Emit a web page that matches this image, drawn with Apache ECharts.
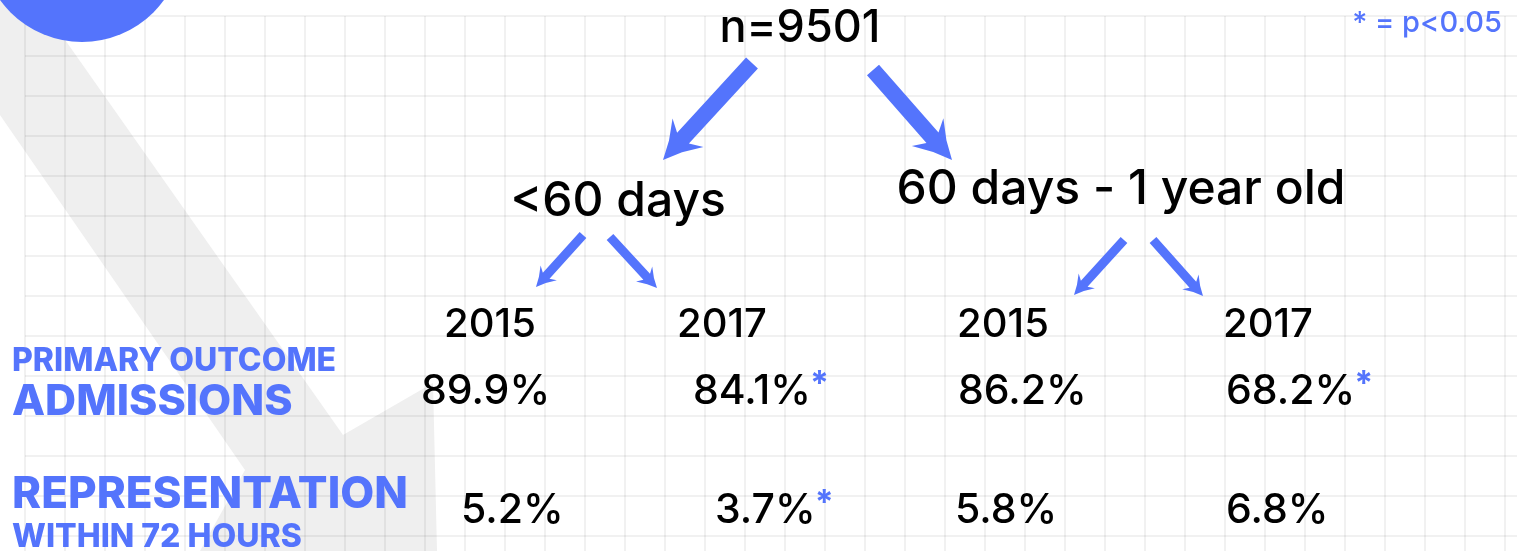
<!DOCTYPE html>
<html>
<head>
<meta charset="utf-8">
<title>Admissions and representation by age group</title>
<script src="https://cdn.jsdelivr.net/npm/echarts@6/dist/echarts.min.js"></script>
<style>
  html, body { margin: 0; padding: 0; background: #fff; }
  #main { width: 1517px; height: 551px; }
</style>
</head>
<body>
<div id="main"></div>
<script>
// data
const totalN = 9501;
const ageGroups = ['<60 days', '60 days - 1 year old'];
const years = ['2015', '2017', '2015', '2017'];
const admissions = [89.9, 84.1, 86.2, 68.2];
const representation = [5.2, 3.7, 5.8, 6.8];
const admissionsSig = [false, true, false, true];
const representationSig = [false, true, false, false];
const rowTitles = [['PRIMARY OUTCOME', 'ADMISSIONS'], ['REPRESENTATION', 'WITHIN 72 HOURS']];
const sigNote = '* = p<0.05';

// layout, in page pixels (axis 0 maps 1 unit = 1 px)
const totalPos = [800, 28];
const groupPos = [[618, 202], [1121, 190]];
const yearX = [490, 722, 1003, 1268];
const yearY = 325;
const admX = [421, 693, 958, 1226];
const repX = [461, 715, 955, 1226];
const rowY = [392, 511];
const bigArrows = [[752, 63, 663, 160], [873, 70, 952, 160]];        // tail x, tail y, tip x, tip y
const smallArrows = [[583, 235, 536, 287], [610, 237, 657, 288], [1124, 240, 1074, 295], [1153, 240, 1203, 296]];
const bandPoints = [[0, 0], [37, 0], [343, 435], [433, 383], [437, 551], [200, 551], [245, 470], [0, 115]];
const dot = [82, -59, 101];

const BLUE = '#5474fc';
const FONT = 'Inter, "Noto Sans", sans-serif';

// collect every text piece
const texts = [];
function addText(x, y, text, size, opts) {
  texts.push(Object.assign({ x: x, y: y, text: text, size: size, align: 'center', color: '#000', weight: 500, star: false }, opts || {}));
}
const pct = v => v.toFixed(1) + '%';
addText(totalPos[0], totalPos[1], 'n=' + totalN, 45);
addText(1502, 23, sigNote, 29, { align: 'right', color: BLUE });
ageGroups.forEach((g, i) => addText(groupPos[i][0], groupPos[i][1], g, 48));
years.forEach((y, i) => addText(yearX[i], yearY, y, 40));
admissions.forEach((v, i) => addText(admX[i], rowY[0], pct(v), 41, { align: 'left', star: admissionsSig[i] }));
representation.forEach((v, i) => addText(repX[i], rowY[1], pct(v), 41, { align: 'left', star: representationSig[i] }));
addText(12, 361, rowTitles[0][0], 32, { align: 'left', color: BLUE, weight: 800 });
addText(12, 402, rowTitles[0][1], 43, { align: 'left', color: BLUE, weight: 800 });
addText(12, 495, rowTitles[1][0], 44, { align: 'left', color: BLUE, weight: 800 });
addText(12, 537, rowTitles[1][1], 32, { align: 'left', color: BLUE, weight: 800 });

const arrows = bigArrows.map(a => a.concat([8, 37, 21])).concat(smallArrows.map(a => a.concat([4.5, 19, 11])));

// text width, to put the significance star right after a number
const measureCtx = document.createElement('canvas').getContext('2d');
function textWidth(str, weight, size) {
  measureCtx.font = weight + ' ' + size + 'px ' + FONT;
  return measureCtx.measureText(str).width;
}

function arrowPoints(tail, tip, shaft, headLen, headHalf) {
  const dx = tip[0] - tail[0], dy = tip[1] - tail[1];
  const len = Math.sqrt(dx * dx + dy * dy);
  const ux = dx / len, uy = dy / len;
  const nx = -uy, ny = ux;
  const at = (d, w) => [tip[0] - ux * d + nx * w, tip[1] - uy * d + ny * w];
  const neck = headLen * 0.8;
  return [
    [tail[0] + nx * shaft, tail[1] + ny * shaft],
    at(neck, shaft), at(headLen, headHalf), at(headLen * 0.5, headHalf * 0.42),
    tip.slice(),
    at(headLen * 0.5, -headHalf * 0.42), at(headLen, -headHalf), at(neck, -shaft),
    [tail[0] - nx * shaft, tail[1] - ny * shaft]
  ];
}

const chart = echarts.init(document.getElementById('main'));
const plain = {
  type: 'value',
  axisLine: { show: false },
  axisTick: { show: false },
  axisLabel: { show: false },
  splitLine: { show: false }
};
// second grid only carries the 40px background grid lines
const lines = Object.assign({}, plain, {
  interval: 40,
  z: 1,
  splitLine: { show: true, showMaxLine: false, lineStyle: { color: 'rgba(0,0,0,0.055)', width: 2 } }
});

chart.setOption({
  animation: false,
  backgroundColor: '#fff',
  grid: [
    { left: 0, top: 0, right: 0, bottom: 0 },
    { left: 25, top: 16, right: 0, bottom: 0 }
  ],
  xAxis: [
    Object.assign({}, plain, { gridIndex: 0, min: 0, max: 1517 }),
    Object.assign({}, lines, { gridIndex: 1, min: 0, max: 1492 })
  ],
  yAxis: [
    Object.assign({}, plain, { gridIndex: 0, min: 0, max: 551, inverse: true }),
    Object.assign({}, lines, { gridIndex: 1, min: 0, max: 535, inverse: true })
  ],
  series: [
    {
      // light grey band behind the grid
      type: 'custom',
      z: 0,
      data: [[0, 0]],
      renderItem: function (params, api) {
        return {
          type: 'polygon',
          shape: { points: bandPoints.map(p => api.coord(p)) },
          style: { fill: '#efefef' }
        };
      }
    },
    {
      type: 'custom',
      z: 3,
      data: [dot],
      renderItem: function (params, api) {
        const c = api.coord([api.value(0), api.value(1)]);
        return {
          type: 'circle',
          shape: { cx: c[0], cy: c[1], r: api.size([api.value(2), 0])[0] },
          style: { fill: BLUE }
        };
      }
    },
    {
      type: 'custom',
      z: 3,
      data: arrows,
      renderItem: function (params, api) {
        const tail = api.coord([api.value(0), api.value(1)]);
        const tip = api.coord([api.value(2), api.value(3)]);
        return {
          type: 'polygon',
          shape: { points: arrowPoints(tail, tip, api.value(4), api.value(5), api.value(6)) },
          style: { fill: BLUE }
        };
      }
    },
    {
      type: 'custom',
      z: 4,
      data: texts.map(t => [t.x, t.y]),
      renderItem: function (params, api) {
        const t = texts[params.dataIndex];
        const p = api.coord([api.value(0), api.value(1)]);
        const children = [{
          type: 'text', x: p[0], y: p[1],
          style: {
            text: t.text, fill: t.color, fontFamily: FONT, fontSize: t.size,
            fontWeight: t.weight, align: t.align, verticalAlign: 'middle'
          }
        }];
        if (t.star) {
          children.push({
            type: 'text', x: p[0] + textWidth(t.text, t.weight, t.size) - 1, y: p[1] - 7,
            style: {
              text: '*', fill: BLUE, fontFamily: FONT, fontSize: 34, fontWeight: 700,
              align: 'left', verticalAlign: 'middle'
            }
          });
        }
        return { type: 'group', children: children };
      }
    }
  ]
});
</script>
</body>
</html>
